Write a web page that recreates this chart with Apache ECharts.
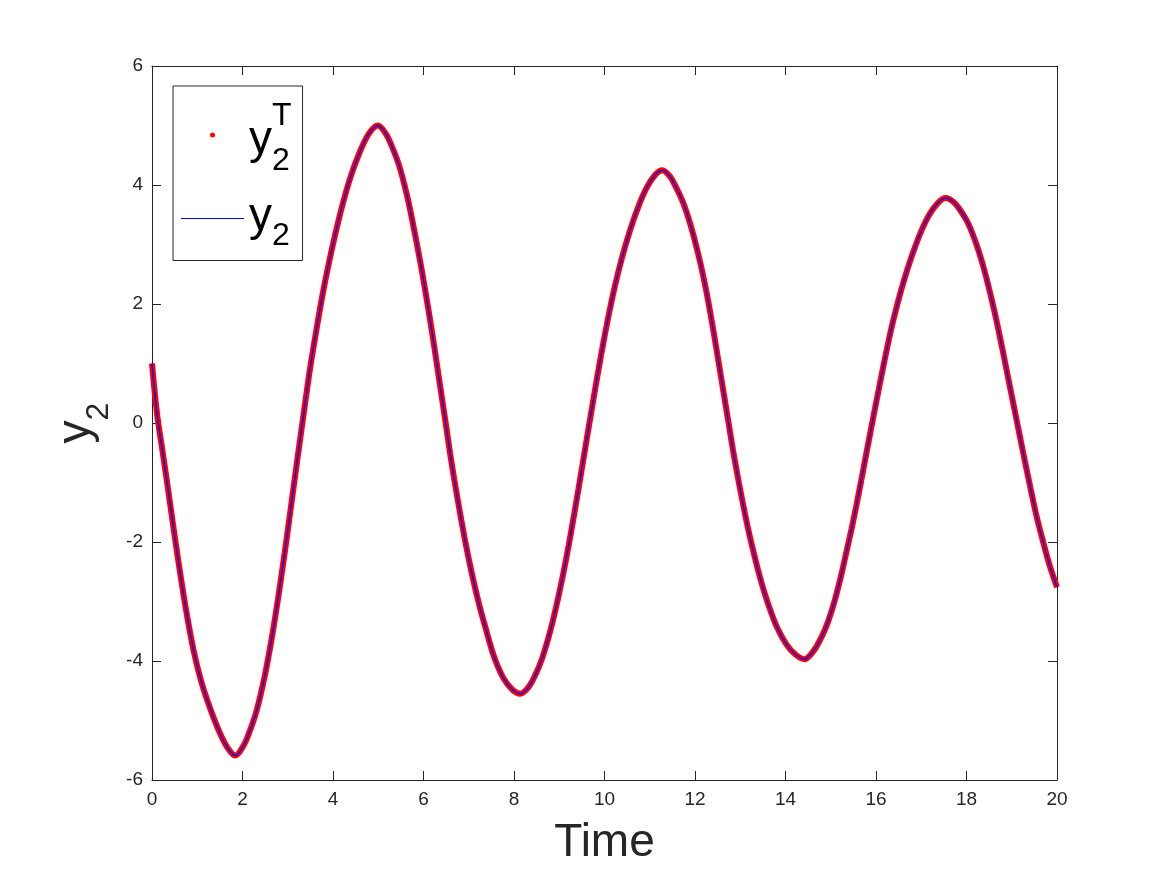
<!DOCTYPE html>
<html>
<head>
<meta charset="utf-8">
<title>y2 vs Time</title>
<script src="https://cdn.jsdelivr.net/npm/echarts@6/dist/echarts.min.js"></script>
<style>
  html, body { margin: 0; padding: 0; background: #fff; }
  #chart { width: 1167px; height: 875px; }
</style>
</head>
<body>
<div id="chart"></div>
<script>
// values (time, y2)
const timePts = [
  0, 0.11, 0.23, 0.33, 0.43, 0.52, 0.65, 0.77, 0.93, 1.11, 1.35, 1.53, 1.68, 1.84,
  2.01, 2.14, 2.31, 2.49, 2.65, 2.78, 2.88, 2.98, 3.09, 3.20, 3.32, 3.42, 3.51, 3.63, 3.76, 3.89, 4.04, 4.20, 4.39, 4.59, 4.79, 4.99,
  5.16, 5.29, 5.46, 5.64, 5.80, 5.94, 6.04, 6.14, 6.25, 6.36, 6.49, 6.59, 6.68, 6.80, 6.93, 7.06, 7.21, 7.37, 7.56, 7.76, 7.96, 8.14,
  8.31, 8.45, 8.62, 8.81, 8.97, 9.11, 9.21, 9.31, 9.42, 9.54, 9.66, 9.76, 9.85, 9.97, 10.10, 10.23, 10.38, 10.54, 10.73, 10.93, 11.13, 11.28,
  11.45, 11.57, 11.74, 11.92, 12.09, 12.22, 12.32, 12.42, 12.52, 12.63, 12.74, 12.84, 12.93, 13.05, 13.18, 13.31, 13.46, 13.62, 13.81, 14.02, 14.22, 14.42,
  14.59, 14.72, 14.89, 15.07, 15.23, 15.36, 15.46, 15.56, 15.67, 15.78, 15.90, 16.00, 16.09, 16.21, 16.34, 16.47, 16.62, 16.78, 16.97, 17.17, 17.37, 17.54,
  17.72, 17.86, 18.04, 18.23, 18.39, 18.53, 18.64, 18.74, 18.86, 18.97, 19.10, 19.20, 19.29, 19.41, 19.54, 19.67, 19.82, 20.00
];
// y2^T (red dots)
const y2Target = [
  1.00, 0.16, -0.46, -0.98, -1.52, -2.00, -2.66, -3.22, -3.86, -4.40, -4.93, -5.26, -5.47, -5.59,
  -5.44, -5.22, -4.84, -4.26, -3.60, -2.98, -2.46, -1.92, -1.30, -0.68, -0.02, 0.53, 1.00, 1.55, 2.12, 2.62, 3.14, 3.64, 4.14, 4.55, 4.86, 5.00,
  4.87, 4.67, 4.33, 3.81, 3.22, 2.66, 2.22, 1.76, 1.22, 0.66, 0.00, -0.52, -0.95, -1.48, -2.02, -2.50, -2.99, -3.44, -3.93, -4.28, -4.48, -4.55,
  -4.45, -4.27, -3.96, -3.47, -2.96, -2.45, -2.05, -1.62, -1.13, -0.58, -0.03, 0.42, 0.82, 1.33, 1.84, 2.30, 2.76, 3.18, 3.60, 3.95, 4.18, 4.25,
  4.14, 3.98, 3.70, 3.28, 2.78, 2.33, 1.93, 1.49, 1.03, 0.52, 0.01, -0.46, -0.84, -1.32, -1.80, -2.22, -2.66, -3.05, -3.43, -3.72, -3.89, -3.97,
  -3.86, -3.71, -3.44, -3.03, -2.56, -2.12, -1.78, -1.41, -0.98, -0.54, -0.06, 0.33, 0.68, 1.13, 1.59, 1.99, 2.40, 2.78, 3.17, 3.49, 3.70, 3.78,
  3.71, 3.58, 3.35, 2.98, 2.58, 2.16, 1.80, 1.44, 0.99, 0.57, 0.08, -0.30, -0.64, -1.08, -1.54, -1.93, -2.35, -2.76
];
// y2 (blue line), drawn over the red dots
const y2Model = [
  1.00, 0.16, -0.46, -0.98, -1.52, -2.00, -2.66, -3.22, -3.86, -4.40, -4.93, -5.26, -5.47, -5.59,
  -5.44, -5.22, -4.84, -4.26, -3.60, -2.98, -2.46, -1.92, -1.30, -0.68, -0.02, 0.53, 1.00, 1.55, 2.12, 2.62, 3.14, 3.64, 4.14, 4.55, 4.86, 5.00,
  4.87, 4.67, 4.33, 3.81, 3.22, 2.66, 2.22, 1.76, 1.22, 0.66, 0.00, -0.52, -0.95, -1.48, -2.02, -2.50, -2.99, -3.44, -3.93, -4.28, -4.48, -4.55,
  -4.45, -4.27, -3.96, -3.47, -2.96, -2.45, -2.05, -1.62, -1.13, -0.58, -0.03, 0.42, 0.82, 1.33, 1.84, 2.30, 2.76, 3.18, 3.60, 3.95, 4.18, 4.25,
  4.14, 3.98, 3.70, 3.28, 2.78, 2.33, 1.93, 1.49, 1.03, 0.52, 0.01, -0.46, -0.84, -1.32, -1.80, -2.22, -2.66, -3.05, -3.43, -3.72, -3.89, -3.97,
  -3.86, -3.71, -3.44, -3.03, -2.56, -2.12, -1.78, -1.41, -0.98, -0.54, -0.06, 0.33, 0.68, 1.13, 1.59, 1.99, 2.40, 2.78, 3.17, 3.49, 3.70, 3.78,
  3.71, 3.58, 3.35, 2.98, 2.58, 2.16, 1.80, 1.44, 0.99, 0.57, 0.08, -0.30, -0.64, -1.08, -1.54, -1.93, -2.35, -2.76
];

const FONT = 'Liberation Sans, Arial, Helvetica, sans-serif';
const INK = '#262626';

const targetPairs = timePts.map((t, i) => [t, y2Target[i]]);
const modelPairs = timePts.map((t, i) => [t, y2Model[i]]);

function boxAxis(pos, min, max) {
  return {
    type: 'value', position: pos, min: min, max: max, interval: 2,
    axisLine: { show: true, onZero: false, lineStyle: { color: INK, width: 1 } },
    axisTick: { show: true, inside: true, length: 9, lineStyle: { color: INK, width: 1 } },
    axisLabel: { show: false },
    splitLine: { show: false }
  };
}

const myChart = echarts.init(document.getElementById('chart'));
myChart.setOption({
  animation: false,
  backgroundColor: '#fff',
  grid: { left: 152, right: 110, top: 66, bottom: 95, containLabel: false },
  xAxis: [
    Object.assign(boxAxis('bottom', 0, 20), {
      name: 'Time',
      nameLocation: 'middle',
      nameGap: 40,
      nameMoveOverlap: false,
      nameTextStyle: { fontSize: 46, color: INK, fontFamily: FONT },
      axisLabel: { show: true, fontSize: 19, color: INK, margin: 10, fontFamily: FONT }
    }),
    boxAxis('top', 0, 20)
  ],
  yAxis: [
    Object.assign(boxAxis('left', -6, 6), {
      name: '{a|y}{b|2}',
      nameLocation: 'middle',
      nameRotate: 90,
      nameGap: 52,
      nameMoveOverlap: false,
      nameTextStyle: {
        color: INK,
        rich: {
          a: { fontSize: 46, fontFamily: FONT, color: INK, verticalAlign: 'top', height: 32, lineHeight: 40 },
          b: { fontSize: 32, fontFamily: FONT, color: INK, verticalAlign: 'bottom', height: 2, lineHeight: 40 }
        }
      },
      axisLabel: { show: true, fontSize: 19, color: INK, margin: 9, fontFamily: FONT }
    }),
    boxAxis('right', -6, 6)
  ],
  legend: {
    orient: 'vertical',
    left: 173,
    top: 86,
    padding: [7, 11, 8, 8],
    itemWidth: 63,
    itemHeight: 5,
    itemGap: 17,
    borderColor: INK,
    borderWidth: 1,
    backgroundColor: '#fff',
    selectedMode: false,
    data: [
      { name: 'y2T', icon: 'circle' },
      { name: 'y2', icon: 'path://M0 0H63V1H0Z' }
    ],
    formatter: function (name) {
      if (name === 'y2T') {
        return '{sp|y}{sup|T}\n{ya|y}{sa|2}';
      }
      return '{yb|y}{sb|2}';
    },
    textStyle: {
      color: '#000',
      fontFamily: FONT,
      rich: {
        sp: { fontSize: 46, fontFamily: FONT, color: 'rgba(0,0,0,0)', height: 2, lineHeight: 16 },
        sup: { fontSize: 32, fontFamily: FONT, color: '#000', lineHeight: 16, height: 2 },
        ya: { fontSize: 46, fontFamily: FONT, color: '#000', verticalAlign: 'top', height: 32, lineHeight: 38 },
        sa: { fontSize: 32, fontFamily: FONT, color: '#000', verticalAlign: 'bottom', height: 2, lineHeight: 38 },
        yb: { fontSize: 46, fontFamily: FONT, color: '#000', verticalAlign: 'top', height: 35, lineHeight: 38 },
        sb: { fontSize: 32, fontFamily: FONT, color: '#000', verticalAlign: 'bottom', height: 2, lineHeight: 38 }
      }
    }
  },
  series: [
    {
      name: 'y2T',
      type: 'line',
      xAxisIndex: 0,
      yAxisIndex: 0,
      data: targetPairs,
      smooth: 0.35,
      symbol: 'none',
      itemStyle: { color: '#ff0000' },
      lineStyle: { color: '#ff0000', width: 6 },
      z: 2
    },
    {
      name: 'y2',
      type: 'line',
      xAxisIndex: 0,
      yAxisIndex: 0,
      data: modelPairs,
      smooth: 0.35,
      symbol: 'none',
      itemStyle: { color: '#0000ff' },
      lineStyle: { color: '#0000ff', width: 1.5 },
      z: 3
    }
  ]
});
</script>
</body>
</html>
